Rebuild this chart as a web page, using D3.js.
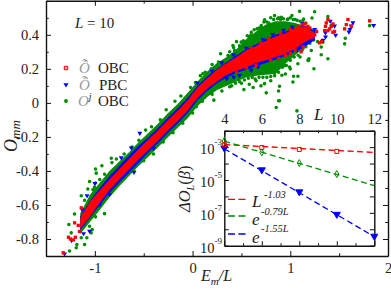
<!DOCTYPE html>
<meta charset="utf-8">
<style>
body { margin: 0; background: #fff; }
svg { display: block; }
svg text { font-family: "Liberation Serif", serif; fill: #222; }
.axis path, .axis line { fill: none; stroke: #111; }
.axis path { stroke-width: 1.4px; }
.axis line { stroke-width: 1px; }
.axis text { font-size: 14.5px; }
.it { font-style: italic; }
</style>
<body>
<div id="chart"></div>
<script src="https://d3js.org/d3.v7.min.js"></script>
<script>

// overplotted core of the cloud, read as envelopes at each energy
var coreE    = [-1.15,-1.05,-.95,-.85,-.75,-.65,-.55,-.45,-.35,-.25,-.15,-.05,.05,.15,.25,.35,.45,.55,.65,.75,.85,.95,1.05,1.15,1.25];
var greenLow = [-.77,-.70,-.63,-.555,-.49,-.43,-.37,-.315,-.26,-.20,-.145,-.09,-.02,.035,.075,.10,.125,.15,.16,.165,.17,.23,.28,.33,.38];
var greenHigh= [-.65,-.54,-.47,-.40,-.345,-.29,-.23,-.175,-.12,-.06,-.005,.06,.125,.185,.235,.27,.315,.375,.42,.46,.48,.48,.47,.45,.43];
var blueLow  = [-.75,-.675,-.60,-.53,-.47,-.41,-.35,-.29,-.235,-.175,-.12,-.06,.015,.07,.115,.15,.175,.195,.215,.235,.255,.275,.30,.33,.37];
var blueHigh = [-.67,-.575,-.50,-.43,-.37,-.31,-.25,-.20,-.145,-.085,-.03,.03,.10,.155,.20,.24,.28,.315,.345,.375,.40,.42,.44,.455,.42];
var redLow   = [-.74,-.67,-.585,-.51,-.45,-.39,-.33,-.275,-.22,-.16,-.105,-.045,.03,.085,.125,.165,.19,.21,.235,.25,.27,.29,.32,.36,.385];
var redHigh  = [-.68,-.58,-.515,-.45,-.39,-.33,-.27,-.215,-.16,-.10,-.045,.015,.09,.145,.195,.235,.27,.31,.335,.365,.39,.41,.44,.45,.41];

// individually visible points
var greenPoints = [
  [-.928,-.37],[-.832,-.325],[-.825,-.351],[-.993,-.389],[-.986,-.413],[-1.054,-.462],[-.993,-.471],[-1.003,-.495],
  [-1.072,-.506],[-1.02,-.51],[-1.139,-.546],[-1.105,-.573],[-1.208,-.653],[-1.266,-.715],[-1.242,-.764],[-1.082,-.793],
  [-1.037,-.764],[-1.027,-.744],[-1.105,-.832],[-1.184,-.832],[-1.19,-.851],[-1.259,-.871],[-.901,-.651],[-.993,-.67],
  [-1.054,-.725],[-1.139,-.793],[-.95,-.45],[-.9,-.42],[-.88,-.56],[-.78,-.33],[-.7,-.30],[-.8,-.50],
  [-.62,-.26],[-.55,-.22],[-.48,-.16],[-.42,-.14],[-.33,-.10],[-.27,-.04],[-.18,.01],[-.12,.04],[-.02,.09],[.03,.12],
  [.08,.16],[.13,.18],[.2,.225],
  [-.6,-.40],[-.5,-.34],[-.4,-.30],[-.3,-.23],[-.2,-.175],[-.1,-.12],[0,-.06],[.1,.01],[.2,.05],[.3,.07],[.4,.10],[.5,.115],
  [.106,.172],[.123,.035],[.038,-.023],[.191,.201],[.218,.016],[.225,.191],[.266,.24],[.287,.289],[.345,.23],[.362,.279],
  [.413,.337],[.43,.308],[.464,.152],[.498,.357],[.525,.078],[.532,.347],[.601,.415],[.635,.396],[.703,.454],[.737,.488],
  [.737,.113],[.754,.059],[.839,.513],[.856,-.027],[.88,.012],[.89,.012],[.88,.07],[.89,.098],[.908,.503],[.914,.162],
  [.942,.22],[.976,.493],[1.017,.513],[1.027,.123],[1.034,.156],[1.068,-.047],[1.078,.156],[1.095,.538],[1.129,.484],
  [1.187,.25],[1.222,.499],[1.242,.201],[1.317,.328],[1.334,.357],[1.385,.507],[1.419,.454],[.993,.211],[1.078,.23],
  [1.129,.318],[1.215,.308],[1.136,.493],[1.249,.536],[1.191,.259],[1.181,.25],[1.317,.283],[1.385,.259],[1.563,.38],
  [1.556,.347],[1.812,.454],[.65,.13],[.7,.1],[.8,.13],[.58,.11],[.62,.09],[.95,.17],[1.0,.2],[.45,.36],[.58,.39],[.68,.44],
  [.78,.47],[.88,.5],[1.05,.49],[1.16,.47],[1.1,.27],
  [.38,.30],[.42,.325],[.48,.335],[.52,.365],[.56,.395],[.6,.40],[.63,.43],[.66,.435],[.7,.44],[.73,.475],[.76,.475],
  [.8,.50],[.83,.49],[.87,.495],[.9,.49],[.93,.495],[.97,.49],[1.0,.5],[1.03,.49],[1.07,.485],[1.1,.48],[1.13,.465],
  [.38,.095],[.44,.115],[.48,.125],[.53,.135],[.57,.145],[.61,.15],[.64,.14],[.68,.15],[.72,.15],[.76,.15],[.8,.155],
  [.84,.16],[.88,.18],[.92,.21],[.96,.22],[1.0,.25],[1.04,.27],[1.08,.28],[1.12,.31],[1.16,.33],[1.2,.35],[1.24,.37],[1.28,.36]
];
var bluePoints = [
  [-1.31,-.89],[-1.238,-.81],[-1.054,-.756],[-1.116,-.77],[-1.13,-.63],[-1.08,-.548],[-1.0,-.475],[-.73,-.324],
  [-.54,-.18],[-.627,-.266],[-.95,-.60],[-.85,-.54],[-.6,-.41],[-.4,-.27],[-.3,-.19],[-.1,-.07],[.05,.115],[.2,.185],
  [.3,.235],[.42,.28],[.35,.14],[.48,.16],[.42,.15],[.6,.19],[.67,.21],[.55,.32],[.72,.37],[.82,.40],[.93,.425],
  [1.02,.445],[1.13,.465],[1.18,.36],[1.07,.31],[1.334,.367],[1.361,.386],[1.36,.41],[1.409,.478],[1.453,.45],[1.464,.396],
  [1.6,.415],[1.61,.43],[1.624,.45],[1.641,.47],[1.853,.454],[1.25,.43]
];
var redPoints = [
  [-1.324,-.881],[-1.27,-.79],[-1.25,-.80],[-1.22,-.805],[-1.2,-.79],[-1.157,-.756],[-1.207,-.705],[-1.17,-.72],
  [-1.139,-.617],[-1.12,-.66],[.95,.28],[1.0,.29],[.8,.25],[.65,.22],[.55,.205],[.45,.18],[.88,.26],[1.05,.31],
  [1.11,.30],[1.13,.33],[1.15,.465],[1.2,.44],[1.22,.41],[1.25,.40],[1.27,.42],[1.17,.38],[1.3,.353],[1.32,.36],
  [.6,.32],[.7,.35],[.78,.38],[.9,.41],[1.0,.43],[1.08,.45],[1.12,.46],[1.18,.45],
  [1.351,.425],[1.36,.45],[1.368,.47],[1.385,.489],[1.385,.425],[1.402,.435],[1.419,.45],[1.436,.464],[1.436,.415],[1.453,.42],
  [1.556,.435],[1.573,.46],[1.59,.49],[1.624,.45],[1.812,.482]
];

// inset: scaling with system size
var sizes = [4, 6, 8, 10, 12];
var deltaRed = [-2.85, -3.02, -3.14, -3.26];
var deltaGreen = [-2.62, -3.32, -3.97, -4.64];
var deltaBlue = [-3.08, -4.41, -5.75, -7.12, -8.45];
var fitSizes = [4, 12];
var fitRed = [-2.84, -3.32];
var fitGreen = [-2.64, -5.34];
var fitBlue = [-3.1, -8.45];

var xTicks = [-1, 0, 1, 2];
var xMinor = [-.5, .5, 1.5];
var yTicks = [-.8, -.6, -.4, -.2, 0, .2, .4];
var yMinor = [-.9, -.7, -.5, -.3, -.1, .1, .3, .5, .6];
var insetTicks = [4, 6, 8, 10, 12];
var insetMinor = [5, 7, 9, 11];
var insetPowers = [-3, -5, -7, -9];
var insetPowersMinor = [-2, -4, -6, -8];

var RED = "#ff0000", BLUE = "#0000ff", GREEN = "#008b00";

var svg = d3.select("#chart").append("svg").attr("width", 391).attr("height", 290);

var x = d3.scaleLinear().domain([-1.5, 2]).range([46, 388]);
var y = d3.scaleLinear().domain([-.9, .6]).range([256, 0.8]);

function band(low, high) {
  return d3.area()
    .x(function(d, i) { return x(coreE[i]); })
    .y0(function(d, i) { return y(low[i]); })
    .y1(function(d, i) { return y(high[i]); })(coreE);
}

function scatter(points, type, size, color) {
  svg.append("g").selectAll("path")
    .data(points)
    .enter().append("path")
    .attr("d", d3.symbol().type(type).size(size))
    .attr("transform", function(d) { return "translate(" + x(d[0]) + "," + y(d[1]) + ")"; })
    .attr("fill", color);
}

var triDown = {
  draw: function(ctx, size) {
    var r = Math.sqrt(size) * .75;
    ctx.moveTo(-r, -r * .7);
    ctx.lineTo(r, -r * .7);
    ctx.lineTo(0, r);
    ctx.closePath();
  }
};

svg.append("path").attr("d", band(greenLow, greenHigh)).attr("fill", GREEN);
scatter(greenPoints, d3.symbolCircle, 10, GREEN);
svg.append("path").attr("d", band(blueLow, blueHigh)).attr("fill", BLUE);
scatter(bluePoints, triDown, 11, BLUE);
svg.append("path").attr("d", band(redLow, redHigh)).attr("fill", RED);
scatter(redPoints, d3.symbolSquare, 11, RED);

// main frame and ticks on all four sides
function ticks(axisFn, scale, major, minor, at, inner, fmt) {
  var g = svg.append("g").attr("class", "axis").attr("transform", at);
  g.call(axisFn(scale).tickValues(major).tickSizeInner(inner).tickSizeOuter(0).tickPadding(fmt ? 7 : 0)
    .tickFormat(fmt || ""));
  var m = svg.append("g").attr("class", "axis").attr("transform", at);
  m.call(axisFn(scale).tickValues(minor).tickSizeInner(inner * .55).tickSizeOuter(0).tickFormat(""));
  m.select(".domain").remove();
  return g;
}

var fmtMain = function(d) { return d === 0 ? "0" : d3.format("")(d).replace("\u2212", "-"); };

ticks(d3.axisBottom, x, xTicks, xMinor, "translate(0,256)", -5, fmtMain);
ticks(d3.axisTop, x, xTicks, xMinor, "translate(0,0.8)", -5);
ticks(d3.axisLeft, y, yTicks, yMinor, "translate(46,0)", -5, fmtMain);
ticks(d3.axisRight, y, yTicks, yMinor, "translate(388,0)", -5);

svg.append("text").attr("x", 75).attr("y", 28).attr("font-size", 15)
  .html('<tspan class="it">L</tspan> = 10');

// axis titles
svg.append("text").attr("transform", "translate(17,152) rotate(-90)").attr("font-size", 18)
  .html('<tspan class="it">O</tspan><tspan class="it" font-size="13" dy="3">mm</tspan>');
svg.append("text").attr("x", 201).attr("y", 281).attr("font-size", 16)
  .html('<tspan class="it">E</tspan><tspan class="it" font-size="11" dy="4">m</tspan><tspan class="it" dy="-4">/L</tspan>');

// legend
var legendRows = [
  {y: 68, label: "OBC", tx: 98, sym: d3.symbolSquare, col: RED},
  {y: 85, label: "PBC", tx: 99, sym: triDown, col: BLUE},
  {y: 101, label: "OBC", tx: 98, sym: d3.symbolCircle, col: GREEN}
];
legendRows.forEach(function(r, i) {
  svg.append("path").attr("d", d3.symbol().type(r.sym).size(12))
    .attr("class", "legend-mark")
    .attr("transform", "translate(66," + r.y + ")").attr("fill", r.col);
  svg.append("text").attr("x", r.tx).attr("y", r.y + 5).attr("font-size", 15).text(r.label);
  if (i < 2) {
    svg.append("text").attr("class", "it").attr("x", 79).attr("y", r.y + 5).attr("font-size", 15)
      .style("fill", "#999").html('\u00D4<tspan dx="-9" dy="-4">\u02C6</tspan>');
  } else {
    svg.append("text").attr("class", "it").attr("x", 78).attr("y", r.y + 5).attr("font-size", 15)
      .style("fill", "#999").html('O<tspan font-size="10" dy="-6" style="fill:#222">j</tspan>');
  }
});
svg.select(".legend-mark").attr("fill", "#ffb0b0").attr("stroke", RED).attr("stroke-width", 1);

// inset
var xi = d3.scaleLinear().domain([4, 12]).range([224.3, 374.3]);
var yi = d3.scaleLinear().domain([-9, -2]).range([245.7, 130.7]);

svg.append("rect").attr("x", 224.3).attr("y", 130.7).attr("width", 150).attr("height", 115)
  .attr("fill", "#fff");

ticks(d3.axisTop, xi, insetTicks, insetMinor, "translate(0,130.7)", -4.5, String);
ticks(d3.axisBottom, xi, insetTicks, insetMinor, "translate(0,245.7)", -4.5);
ticks(d3.axisLeft, yi, insetPowers.concat(insetPowersMinor), [], "translate(224.3,0)", -4.5);
ticks(d3.axisRight, yi, insetPowers.concat(insetPowersMinor), [], "translate(374.3,0)", -4.5);

insetPowers.forEach(function(p) {
  svg.append("text").attr("x", 200).attr("y", yi(p) + 7).attr("font-size", 14.5)
    .html('10<tspan font-size="9" dy="-9">' + p + '</tspan>');
});

svg.append("text").attr("class", "it").attr("x", 314).attr("y", 120).attr("font-size", 17).text("L");
svg.append("text").attr("transform", "translate(190,212) rotate(-90)").attr("font-size", 16.5)
  .html('<tspan class="it">\u0394O</tspan><tspan class="it" font-size="10" dy="4">L</tspan><tspan dy="-4">(</tspan><tspan class="it">\u03B2</tspan>)');

var fitLine = d3.line()
  .x(function(d, i) { return xi(fitSizes[i]); })
  .y(function(d) { return yi(d); });

[[fitRed, RED], [fitGreen, GREEN], [fitBlue, BLUE]].forEach(function(f) {
  svg.append("path").attr("d", fitLine(f[0])).attr("fill", "none")
    .attr("stroke", f[1]).attr("stroke-width", 1.3).attr("stroke-dasharray", "6,3.5");
});

function insetMarks(vals, sym, size, color, filled) {
  svg.append("g").selectAll("path")
    .data(vals)
    .enter().append("path")
    .attr("d", d3.symbol().type(sym).size(size))
    .attr("transform", function(d, i) { return "translate(" + xi(sizes[i]) + "," + yi(d) + ")"; })
    .attr("fill", filled ? color : "none")
    .attr("stroke", color).attr("stroke-width", 1);
}
insetMarks(deltaGreen, d3.symbolDiamond, 14, GREEN, false);
insetMarks(deltaBlue, triDown, 22, BLUE, true);
insetMarks(deltaRed, d3.symbolSquare, 16, RED, false);

var insetLegend = [
  {y: 199.3, col: RED, base: "L", by: 207, sup: "-1.03", sy: 198, sx: 264},
  {y: 216, col: GREEN, base: "e", by: 225, sup: "-0.79L", sy: 215, sx: 261},
  {y: 234, col: BLUE, base: "e", by: 243, sup: "-1.55L", sy: 232, sx: 261}
];
insetLegend.forEach(function(r) {
  svg.append("line").attr("x1", 228).attr("x2", 246).attr("y1", r.y).attr("y2", r.y)
    .attr("stroke", r.col).attr("stroke-width", 1.3).attr("stroke-dasharray", "7,3.5");
  svg.append("text").attr("class", "it").attr("x", 252).attr("y", r.by).attr("font-size", 17).text(r.base);
  svg.append("text").attr("class", "it").attr("x", r.sx).attr("y", r.sy).attr("font-size", 10.5).text(r.sup);
});

</script>
